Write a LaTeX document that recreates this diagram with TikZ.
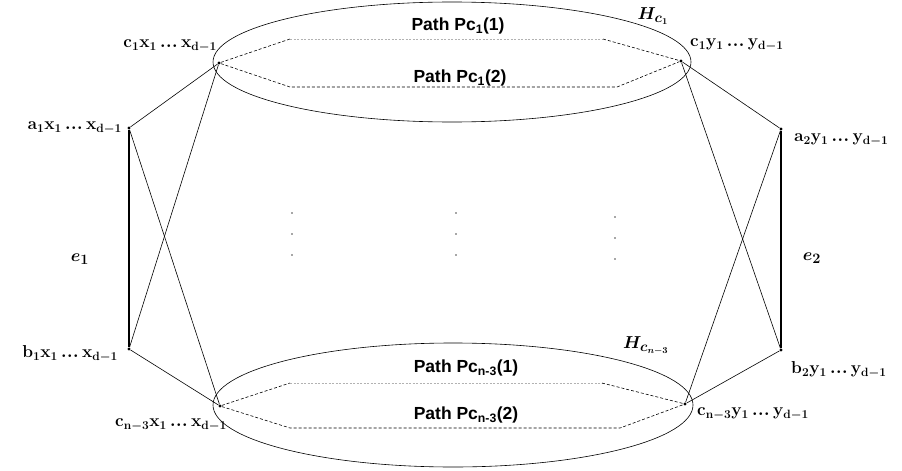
\documentclass[tikz,border=0pt]{standalone}
\usepackage{fontspec}
\setsansfont{Liberation Sans}
\newcommand{\tdots}{\mathinner{.\kern0.5pt.\kern0.5pt.}}
\begin{document}
\begin{tikzpicture}[x=1pt,y=-1pt,
  vtx/.style={circle,fill=black,inner sep=0pt,minimum size=3.4pt},
  vlab/.style={inner sep=0pt,font=\fontsize{17}{19}\selectfont\boldmath},
  plab/.style={inner sep=0pt,font=\sffamily\bfseries\fontsize{17.5}{19}\selectfont},
  hlab/.style={inner sep=0pt,font=\fontsize{19}{21}\selectfont\boldmath},
  edge/.style={line width=0.6pt},
  thickedge/.style={line width=1.6pt},
  pdash/.style={line width=0.6pt,dash pattern=on 3pt off 2pt},
  pdot/.style={line width=0.8pt,gray!60,dash pattern=on 2pt off 1.5pt},
  vdot/.style={circle,fill=black!70,inner sep=0pt,minimum size=1.8pt}]
\useasboundingbox (0,0) rectangle (902,471);
% ellipses
\draw[edge] (452,62) ellipse [x radius=239, y radius=60];
\draw[edge] (453,405) ellipse [x radius=240, y radius=62];
% vertices
\node[vtx] (c1) at (219,63) {};
\node[vtx] (c1r) at (681,61) {};
\node[vtx] (a1) at (129,128) {};
\node[vtx] (a2) at (781,129) {};
\node[vtx] (b1) at (129,349) {};
\node[vtx] (b2) at (781,350) {};
\node[vtx] (cn) at (220,406) {};
\node[vtx] (cnr) at (685,404) {};
% path corners
\coordinate (t1a) at (290,39); \coordinate (t1b) at (603,39);
\coordinate (t2a) at (290,87); \coordinate (t2b) at (617,87);
\coordinate (u1a) at (290,383); \coordinate (u1b) at (602,383);
\coordinate (u2a) at (290,428); \coordinate (u2b) at (620,428);
% dashed paths
\draw[pdash] (c1) -- (t1a); \draw[pdot] (t1a) -- (t1b); \draw[pdash] (t1b) -- (c1r);
\draw[pdash] (c1) -- (t2a) -- (t2b) -- (c1r);
\draw[pdash] (cn) -- (u1a); \draw[pdot] (u1a) -- (u1b); \draw[pdash] (u1b) -- (cnr);
\draw[pdash] (cn) -- (u2a) -- (u2b) -- (cnr);
% edges
\draw[thickedge] (a1) -- (b1);
\draw[thickedge] (a2) -- (b2);
\draw[edge] (a1) -- (c1);
\draw[edge] (a1) -- (cn);
\draw[edge] (b1) -- (c1);
\draw[edge] (b1) -- (cn);
\draw[edge] (a2) -- (c1r);
\draw[edge] (a2) -- (cnr);
\draw[edge] (b2) -- (c1r);
\draw[edge] (b2) -- (cnr);
% vertex labels
\node[vlab,anchor=east] (lc1) at (217,46) {$\mathbf{c_1x_1\tdots x_{d-1}}$};
\node[vlab,anchor=east] (la1) at (122,128) {$\mathbf{a_1x_1\tdots x_{d-1}}$};
\node[vlab,anchor=east] (lb1) at (118,354) {$\mathbf{b_1x_1\tdots x_{d-1}}$};
\node[vlab,anchor=east] (lcn) at (227,425) {$\mathbf{c_{n-3}x_1\tdots x_{d-1}}$};
\node[vlab,anchor=west] (lc1r) at (690,45) {$\mathbf{c_1y_1\tdots y_{d-1}}$};
\node[vlab,anchor=west] (la2) at (794,140) {$\mathbf{a_2y_1\tdots y_{d-1}}$};
\node[vlab,anchor=west] (lb2) at (791,370) {$\mathbf{b_2y_1\tdots y_{d-1}}$};
\node[vlab,anchor=west] (lcnr) at (697,414) {$\mathbf{c_{n-3}y_1\tdots y_{d-1}}$};
% path labels
\node[plab] (p11) at (458,26) {Path Pc\textsubscript{1}(1)};
\node[plab] (p12) at (460,78) {Path Pc\textsubscript{1}(2)};
\node[plab] (pn1) at (466,368) {Path Pc\textsubscript{n-3}(1)};
\node[plab] (pn2) at (466,415) {Path Pc\textsubscript{n-3}(2)};
% H labels
\node[hlab] (h1) at (653,16) {$H_{c_1}$};
\node[hlab] (hn) at (646,346) {$H_{c_{n-3}}$};
% e labels
\node[hlab] (e1) at (80,259) {$e_1$};
\node[hlab] (e2) at (812,258) {$e_2$};
% vertical dots
\foreach \x/\dy [count=\i] in {292/0,456/0,615/4}{
  \node[vdot] (d\i a) at (\x,213+\dy) {};
  \node[vdot] (d\i b) at (\x,234+\dy) {};
  \node[vdot] (d\i c) at (\x,255+\dy) {};
}
\end{tikzpicture}
\end{document}
